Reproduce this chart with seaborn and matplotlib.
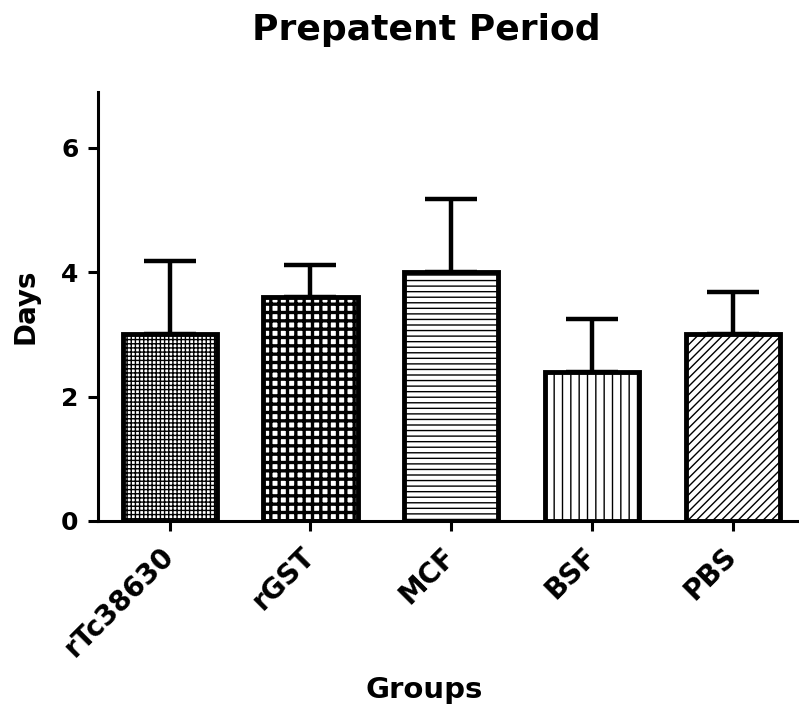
import numpy as np
import pandas as pd
import matplotlib
matplotlib.use("Agg")
import matplotlib.pyplot as plt
import seaborn as sns

# values
groups = ["rTc38630", "rGST", "MCF", "BSF", "PBS"]
days_mean = [3.0, 3.6, 4.0, 2.4, 3.0]
days_sem = [1.18, 0.52, 1.18, 0.85, 0.68]
hatches = ["++++", "++", "---", "||", "////"]
y_ticks = [0, 2, 4, 6]

sns.set_style("ticks")
plt.rcParams["font.family"] = ["DejaVu Sans"]
plt.rcParams["font.weight"] = "bold"
plt.rcParams["hatch.linewidth"] = 1.0
for key in ["text.color", "axes.labelcolor", "xtick.color", "ytick.color"]:
    plt.rcParams[key] = "black"

df = pd.DataFrame({"Groups": groups, "Days": days_mean})

fig = plt.figure(figsize=(7.99, 7.09), dpi=100)
ax = fig.add_axes([98 / 799, 1 - 521 / 709, 1 - 98 / 799 - 0.002, (521 - 92) / 709])

sns.barplot(data=df, x="Groups", y="Days", color="white", edgecolor="black",
            linewidth=3.5, width=0.67, errorbar=None, saturation=1, ax=ax)

bars = ax.patches[:len(groups)]
for bar, h in zip(bars, hatches):
    bar.set_hatch(h)
    bar.set_facecolor("white")
    bar.set_edgecolor("black")
    bar.set_zorder(3)
    if h == "++" and hasattr(bar, "set_hatch_linewidth"):
        bar.set_hatch_linewidth(2.4)

centers = [b.get_x() + b.get_width() / 2 for b in bars]
ax.errorbar(centers, days_mean, yerr=[np.zeros(len(groups)), days_sem],
            fmt="none", ecolor="black", elinewidth=3.2, capsize=18.5,
            capthick=3.2, zorder=2)

ax.set_ylim(0, 6.9)
ax.set_xlim(-0.51, len(groups) - 0.54)
ax.set_yticks(y_ticks)
ax.set_yticklabels([str(t) for t in y_ticks], fontsize=18, fontweight="bold")
ax.set_xticks(centers)
ax.set_xticklabels(groups, rotation=45, ha="right", va="center",
                   rotation_mode="anchor", fontsize=20, fontweight="bold")
ax.tick_params(axis="both", length=7, width=2.2, color="black")
ax.tick_params(axis="y", pad=7)
ax.tick_params(axis="x", pad=15)

for side in ["top", "right"]:
    ax.spines[side].set_visible(False)
for side in ["left", "bottom"]:
    ax.spines[side].set_linewidth(2.2)
    ax.spines[side].set_color("black")

ax.set_xlabel("")
ax.set_ylabel("")
fig.text(25 / 799, 1 - 306 / 709, "Days", rotation=90, ha="center", va="center",
         fontsize=20, fontweight="bold")
fig.text(424 / 799, 1 - 690 / 709, "Groups", ha="center", va="center",
         fontsize=21, fontweight="bold")
fig.text(426 / 799, 1 - 30 / 709, "Prepatent Period", ha="center", va="center",
         fontsize=26, fontweight="bold")

fig.savefig("out.png", dpi=100, facecolor="white")
